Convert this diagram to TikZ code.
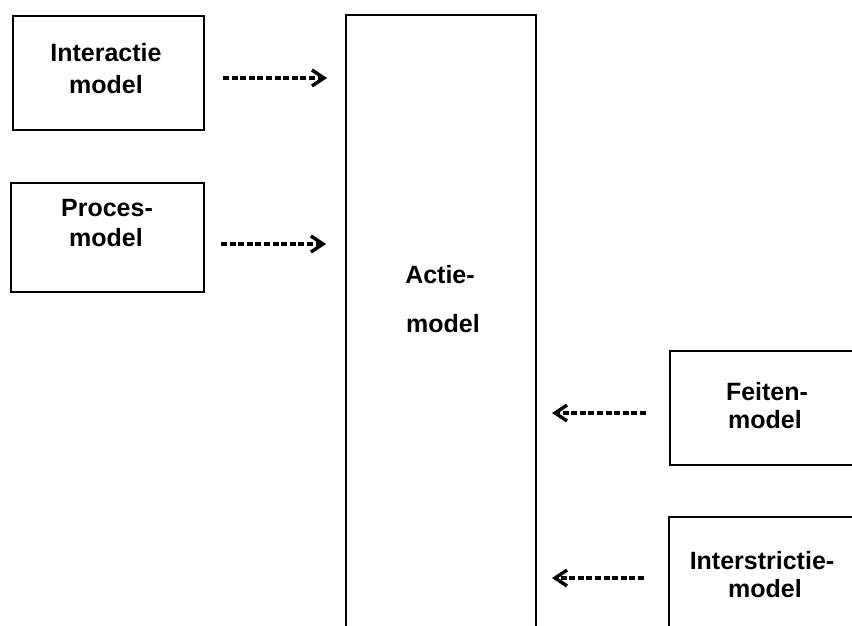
\documentclass[tikz,border=0pt]{standalone}
\usepackage{fontspec}
\setmainfont{Liberation Sans}
\usetikzlibrary{arrows.meta}
\tikzset{
  boxline/.style={line width=2.4pt, line join=miter},
  lbl/.style={font=\fontsize{25}{28}\selectfont\bfseries, anchor=base, inner sep=0pt},
  dasharrow/.style={line width=3.4pt, dash pattern=on 6pt off 2.6pt,
    -{Straight Barb[length=12pt,width=16pt,line width=3.4pt]}}
}
\begin{document}
\begin{tikzpicture}[x=1pt,y=-1pt]
\useasboundingbox (0,0) rectangle (852,626);
% closed boxes
\node[boxline, draw, minimum width=191pt, minimum height=114pt, inner sep=0pt, anchor=north west] (inter) at (12,15) {};
\node[boxline, draw, minimum width=193pt, minimum height=109pt, inner sep=0pt, anchor=north west] (proces) at (10,182) {};
% open boxes
\coordinate (actBL) at (346,640);
\coordinate (actTL) at (346,15);
\coordinate (actTR) at (536,15);
\coordinate (actBR) at (536,640);
\draw[boxline] (actBL) -- (actTL) -- (actTR) -- (actBR);
\coordinate (feiTR) at (870,351);
\coordinate (feiTL) at (670,351);
\coordinate (feiBL) at (670,465);
\coordinate (feiBR) at (870,465);
\draw[boxline] (feiTR) -- (feiTL) -- (feiBL) -- (feiBR);
\coordinate (strTR) at (870,517);
\coordinate (strTL) at (669,517);
\coordinate (strBL) at (669,640);
\draw[boxline] (strTR) -- (strTL) -- (strBL);
% labels
\node[lbl] (t1a) at (106,62) {Interactie};
\node[lbl] (t1b) at (106,94) {model};
\node[lbl] (t2a) at (107,216) {Proces-};
\node[lbl] (t2b) at (106,246) {model};
\node[lbl] (t3a) at (440,283) {Actie-};
\node[lbl] (t3b) at (443,332) {model};
\node[lbl] (t4a) at (767,400) {Feiten-};
\node[lbl] (t4b) at (765,428) {model};
\node[lbl] (t5a) at (762,569) {Interstrictie-};
\node[lbl] (t5b) at (765,597) {model};
% arrows
\coordinate (a1s) at (223,78);
\coordinate (a1e) at (327,78);
\coordinate (a2s) at (221,244);
\coordinate (a2e) at (326,244);
\coordinate (a3s) at (646,413);
\coordinate (a3e) at (552,413);
\coordinate (a4s) at (644,578);
\coordinate (a4e) at (552,578);
\draw[dasharrow] (a1s) -- (a1e);
\draw[dasharrow] (a2s) -- (a2e);
\draw[dasharrow] (a3s) -- (a3e);
\draw[dasharrow] (a4s) -- (a4e);
\end{tikzpicture}
\end{document}
